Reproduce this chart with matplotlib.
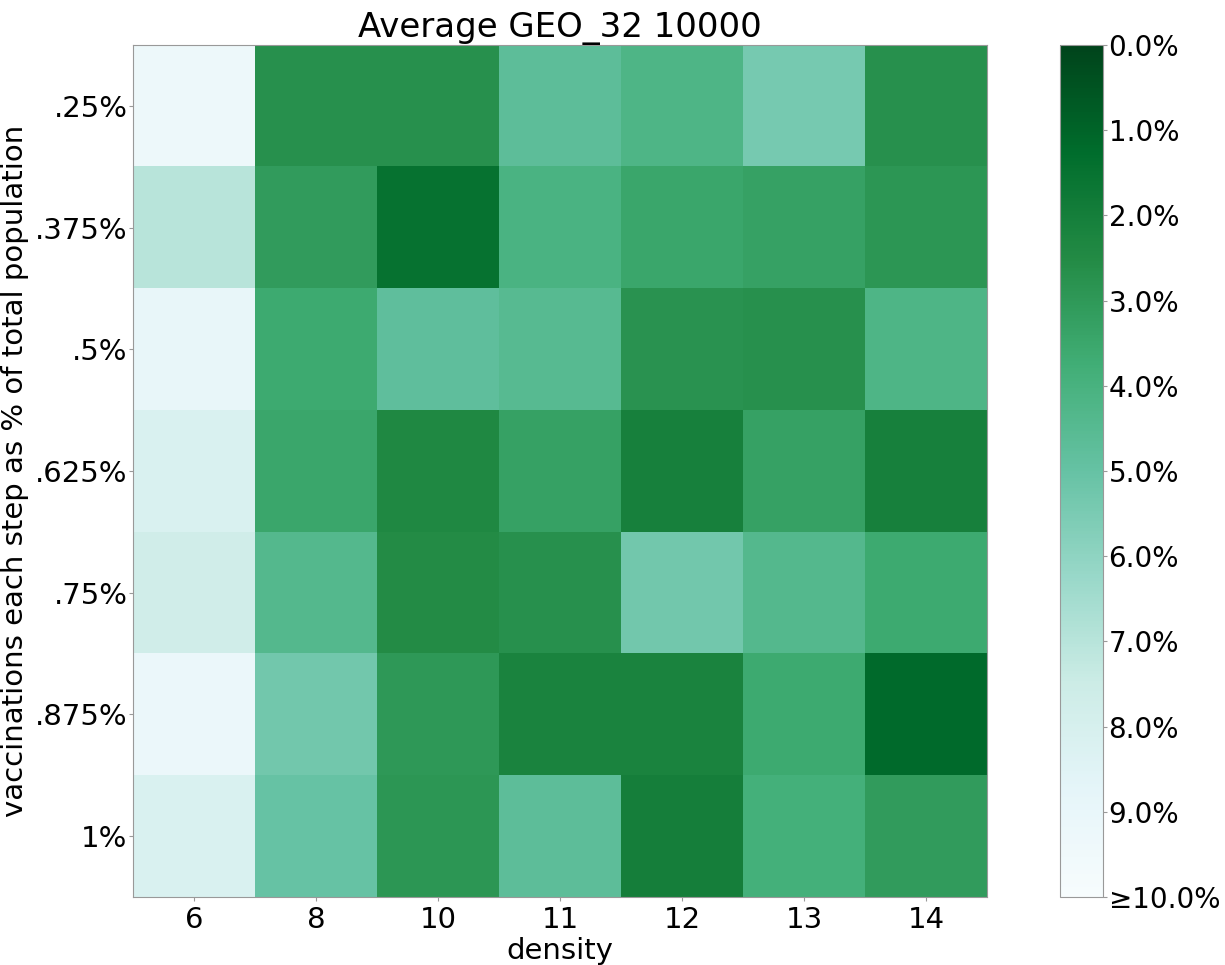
import matplotlib
matplotlib.use("Agg")
import matplotlib.pyplot as plt
import numpy as np

densities = ["6", "8", "10", "11", "12", "13", "14"]
rates = [".25%", ".375%", ".5%", ".625%", ".75%", ".875%", "1%"]
values = np.array([
    [9.3, 2.7, 2.7, 4.7, 4.2, 5.4, 2.7],
    [7.0, 3.1, 1.5, 4.1, 3.5, 3.3, 2.9],
    [9.0, 3.6, 4.8, 4.5, 2.8, 2.7, 4.2],
    [8.2, 3.5, 2.4, 3.3, 2.1, 3.3, 2.1],
    [7.7, 4.4, 2.5, 2.7, 5.3, 4.4, 3.6],
    [9.2, 5.3, 3.0, 2.2, 2.2, 3.6, 1.2],
    [8.2, 5.0, 2.9, 4.7, 2.0, 3.9, 3.1],
])
cbar_ticks = [0, 1, 2, 3, 4, 5, 6, 7, 8, 9, 10]
cbar_labels = ["0.0%", "1.0%", "2.0%", "3.0%", "4.0%", "5.0%", "6.0%", "7.0%", "8.0%", "9.0%", "≥10.0%"]

fig = plt.figure(figsize=(12.25, 9.65), dpi=100)
ax = fig.add_axes([133/1225, 1-897/965, (987-133)/1225, (897-45)/965])
cax = fig.add_axes([1060/1225, 1-897/965, 43/1225, (897-45)/965])

im = ax.imshow(values, cmap="BuGn_r", vmin=0, vmax=10, aspect="auto", interpolation="nearest")
ax.set_xticks(range(len(densities)))
ax.set_xticklabels(densities, fontsize=21)
ax.set_yticks(range(len(rates)))
ax.set_yticklabels(rates, fontsize=21)
ax.set_xlabel("density", fontsize=21, labelpad=2)
ax.set_ylabel("vaccinations each step as % of total population", fontsize=21, labelpad=4)
ax.set_title("Average GEO_32 10000", fontsize=24.5, pad=5)
ax.tick_params(color="#999999", length=3)
ax.tick_params(axis="y", pad=1)
for s in ax.spines.values():
    s.set_color("#999999")

cb = fig.colorbar(im, cax=cax)
cb.set_ticks(cbar_ticks)
cb.set_ticklabels(cbar_labels)
cb.ax.tick_params(labelsize=20, color="#999999", length=3, pad=1)
cb.ax.invert_yaxis()
cb.outline.set_edgecolor("#999999")

fig.savefig("out.png", dpi=100)
